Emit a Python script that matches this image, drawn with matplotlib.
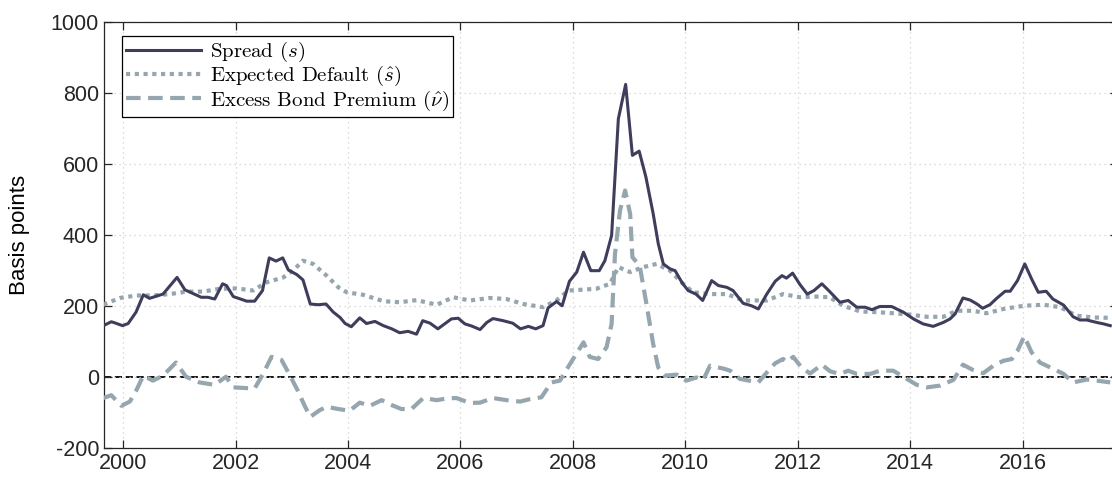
import matplotlib.pyplot as plt
import numpy as np

plt.rcParams['font.family'] = ['Liberation Sans', 'DejaVu Sans']
plt.rcParams['mathtext.fontset'] = 'cm'
plt.rcParams['axes.unicode_minus'] = False

# Spread (s)
spread_t = [1999.65, 1999.79, 1999.85, 1999.99, 2000.09, 2000.23, 2000.36, 2000.47, 2000.71, 2000.96,
            2001.10, 2001.39, 2001.51, 2001.63, 2001.77, 2001.84, 2001.96, 2002.20, 2002.34, 2002.48,
            2002.60, 2002.72, 2002.84, 2002.94, 2003.09, 2003.20, 2003.33, 2003.47, 2003.61, 2003.74,
            2003.86, 2003.95, 2004.06, 2004.21, 2004.33, 2004.48, 2004.63, 2004.78, 2004.92, 2005.07,
            2005.22, 2005.33, 2005.46, 2005.60, 2005.72, 2005.84, 2005.96, 2006.08, 2006.20, 2006.35,
            2006.47, 2006.58, 2006.76, 2006.93, 2007.07, 2007.21, 2007.34, 2007.47, 2007.56, 2007.71,
            2007.81, 2007.94, 2008.07, 2008.19, 2008.32, 2008.47, 2008.57, 2008.69, 2008.81, 2008.94,
            2009.06, 2009.18, 2009.30, 2009.43, 2009.52, 2009.61, 2009.73, 2009.82, 2009.94, 2010.05,
            2010.19, 2010.31, 2010.47, 2010.59, 2010.74, 2010.85, 2011.03, 2011.18, 2011.30, 2011.45,
            2011.60, 2011.72, 2011.80, 2011.91, 2012.04, 2012.17, 2012.29, 2012.43, 2012.57, 2012.75,
            2012.90, 2013.05, 2013.20, 2013.32, 2013.46, 2013.67, 2013.88, 2014.06, 2014.23, 2014.41,
            2014.59, 2014.71, 2014.80, 2014.94, 2015.07, 2015.19, 2015.29, 2015.42, 2015.54, 2015.69,
            2015.78, 2015.91, 2016.04, 2016.16, 2016.28, 2016.42, 2016.54, 2016.73, 2016.90, 2017.02,
            2017.14, 2017.32, 2017.44, 2017.56]
spread_v = [144, 155, 152, 144, 150, 182, 231, 221, 233, 280,
            245, 224, 224, 219, 262, 257, 226, 213, 213, 243,
            335, 326, 335, 301, 288, 273, 205, 203, 205, 182,
            167, 150, 141, 166, 150, 156, 144, 135, 124, 128,
            120, 158, 151, 135, 149, 163, 165, 149, 143, 133,
            153, 164, 158, 151, 135, 142, 135, 144, 194, 212,
            200, 269, 295, 351, 299, 299, 327, 398, 727, 824,
            624, 636, 563, 459, 375, 318, 304, 299, 266, 243,
            233, 215, 271, 257, 252, 243, 207, 200, 191, 233,
            269, 285, 278, 292, 260, 233, 243, 262, 240, 210,
            215, 196, 196, 189, 198, 198, 182, 163, 149, 142,
            153, 163, 177, 222, 216, 205, 193, 203, 221, 241,
            241, 271, 318, 276, 238, 241, 219, 202, 169, 160,
            160, 153, 149, 144]

# Expected default (s hat)
expdef_t = [1999.65, 1999.94, 2000.24, 2000.53, 2000.83, 2001.13, 2001.42, 2001.72, 2002.02, 2002.31,
            2002.55, 2002.85, 2003.02, 2003.20, 2003.38, 2003.62, 2003.83, 2003.98, 2004.27, 2004.63,
            2004.92, 2005.22, 2005.58, 2005.87, 2006.17, 2006.52, 2006.82, 2007.12, 2007.47, 2007.71,
            2007.92, 2008.13, 2008.42, 2008.66, 2008.81, 2009.02, 2009.25, 2009.49, 2009.73, 2009.96,
            2010.14, 2010.44, 2010.74, 2011.03, 2011.30, 2011.45, 2011.74, 2012.04, 2012.34, 2012.57,
            2012.81, 2013.11, 2013.41, 2013.70, 2014.00, 2014.30, 2014.59, 2014.83, 2015.12, 2015.36,
            2015.66, 2016.02, 2016.37, 2016.67, 2016.96, 2017.26, 2017.56]
expdef_v = [203, 222, 229, 229, 233, 240, 240, 248, 249, 243,
            266, 280, 299, 327, 318, 285, 252, 238, 231, 213,
            210, 216, 203, 224, 215, 222, 219, 205, 196, 215,
            243, 245, 248, 262, 309, 295, 309, 318, 299, 262,
            238, 233, 233, 215, 215, 215, 233, 224, 226, 224,
            200, 184, 182, 179, 175, 169, 169, 186, 186, 179,
            191, 200, 203, 196, 172, 167, 166]

# Excess bond premium (nu hat)
ebp_t = [1999.65, 1999.79, 1999.97, 2000.12, 2000.23, 2000.36, 2000.53, 2000.71, 2000.94, 2001.12,
         2001.36, 2001.63, 2001.83, 2001.96, 2002.20, 2002.34, 2002.49, 2002.64, 2002.82, 2002.97,
         2003.11, 2003.23, 2003.33, 2003.50, 2003.62, 2003.83, 2004.03, 2004.21, 2004.39, 2004.60,
         2004.78, 2004.95, 2005.13, 2005.34, 2005.58, 2005.76, 2005.93, 2006.17, 2006.35, 2006.58,
         2006.82, 2007.06, 2007.24, 2007.44, 2007.62, 2007.77, 2007.95, 2008.19, 2008.30, 2008.45,
         2008.60, 2008.69, 2008.75, 2008.84, 2008.93, 2009.02, 2009.06, 2009.19, 2009.31, 2009.43,
         2009.52, 2009.64, 2009.85, 2010.02, 2010.20, 2010.32, 2010.44, 2010.68, 2010.80, 2010.97,
         2011.30, 2011.45, 2011.60, 2011.74, 2011.81, 2011.92, 2012.07, 2012.22, 2012.43, 2012.58,
         2012.75, 2012.90, 2013.05, 2013.29, 2013.46, 2013.70, 2013.94, 2014.12, 2014.30, 2014.53,
         2014.77, 2014.94, 2015.12, 2015.30, 2015.48, 2015.66, 2015.81, 2015.91, 2016.03, 2016.16,
         2016.31, 2016.55, 2016.73, 2016.90, 2017.14, 2017.32, 2017.56]
ebp_v = [-60, -52, -82, -70, -40, 3, -11, 3, 40, 0,
         -16, -23, 0, -30, -32, -33, 8, 56, 47, 3,
         -40, -82, -113, -94, -85, -91, -96, -73, -82, -66,
         -80, -91, -91, -60, -66, -61, -60, -74, -73, -60,
         -66, -70, -63, -58, -16, -11, 36, 97, 56, 50,
         83, 149, 346, 469, 525, 459, 337, 313, 205, 92,
         26, 3, 6, -11, -2, -9, 31, 23, 17, -6,
         -16, 12, 38, 50, 42, 56, 26, 9, 34, 15,
         8, 17, 8, 8, 17, 17, -6, -23, -30, -25,
         -9, 34, 19, 10, 31, 45, 50, 73, 114, 69,
         40, 22, 8, -16, -8, -11, -16]

dark = '#3e3d5c'
grey = '#96a6ae'

fig = plt.figure(figsize=(11.12, 4.83), dpi=100)
ax = fig.add_axes([0.0935, 0.0731, 0.912, 0.8814])

ax.axhline(0, color='k', linestyle='--', linewidth=1.3, dashes=(4, 2), zorder=1)
l1, = ax.plot(spread_t, spread_v, color=dark, linewidth=2.2, zorder=4, label=r'Spread ($s$)')
l2, = ax.plot(expdef_t, expdef_v, color=grey, linewidth=3.0, linestyle=(0, (1, 1.1)), zorder=3,
              label=r'Expected Default ($\hat{s}$)')
l3, = ax.plot(ebp_t, ebp_v, color=grey, linewidth=3.0, linestyle=(0, (3.5, 1.8)), zorder=3,
              label=r'Excess Bond Premium ($\hat{\nu}$)')

ax.set_xlim(1999.66, 2017.70)
ax.set_ylim(-200, 1000)
ax.set_xticks(np.arange(2000, 2017, 2))
ax.set_yticks(np.arange(-200, 1001, 200))
ax.grid(True, linestyle=(0, (1, 3)), color='#d0d0d0', linewidth=0.9)
ax.tick_params(direction='in', length=6, width=0.9, labelsize=15.5, top=True, right=True,
               colors='#262626')
for s in ax.spines.values():
    s.set_linewidth(0.9)
    s.set_color('#262626')
ax.set_ylabel('Basis points', fontsize=16, labelpad=15)

leg = ax.legend(loc='upper left', bbox_to_anchor=(0.018, 0.967), borderaxespad=0, fancybox=False,
                framealpha=1, edgecolor='k', handlelength=3.6, borderpad=0.2, labelspacing=0.0,
                handletextpad=0.4, prop={'family': 'cmr10', 'size': 15})
leg.get_frame().set_linewidth(0.9)

fig.savefig('out.png', dpi=100)
